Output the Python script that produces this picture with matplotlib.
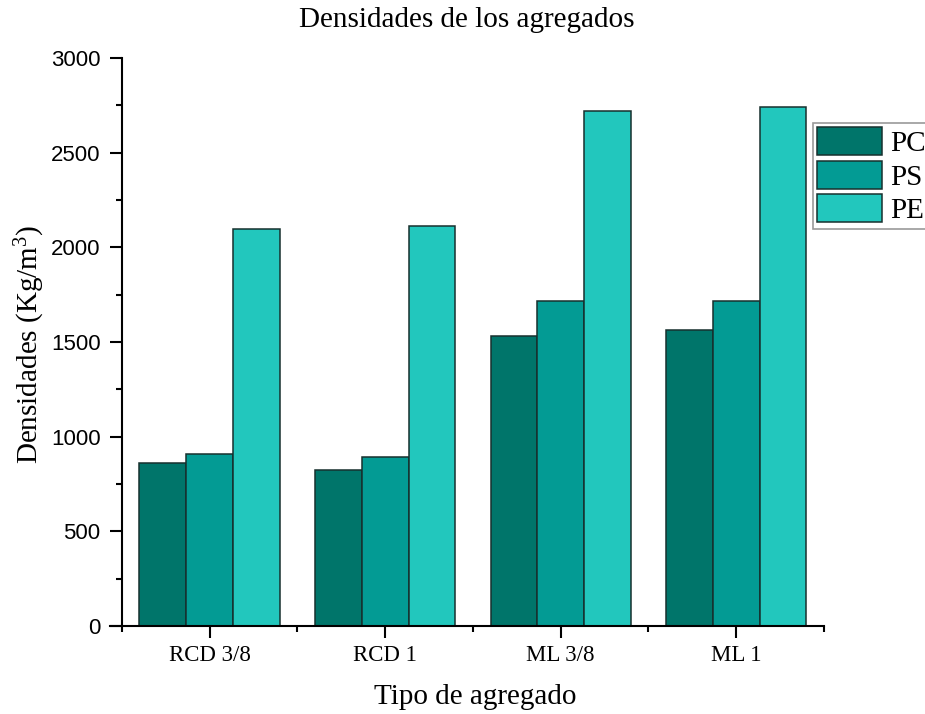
import numpy as np
import matplotlib
matplotlib.use('Agg')
import matplotlib.pyplot as plt
from matplotlib.ticker import MultipleLocator, FixedLocator

# data
categorias = ['RCD 3/8', 'RCD 1', 'ML 3/8', 'ML 1']
series = ['PC', 'PS', 'PE']
pc = [861, 822, 1533, 1562]
ps = [910, 893, 1715, 1715]
pe = [2099, 2114, 2719, 2743]
colores = ['#00756a', '#039b94', '#22c7bd']

plt.rcParams['mathtext.fontset'] = 'custom'
plt.rcParams['mathtext.rm'] = 'Liberation Serif'
plt.rcParams['mathtext.default'] = 'regular'

serif = 'Liberation Serif'
sans = 'Liberation Sans'

fig = plt.figure(figsize=(9.25, 7.14), dpi=100)
ax = fig.add_axes([110/925, 1 - 626/714, 714/925, 568/714])

x = np.arange(len(categorias))
w = 0.8 / 3
for j, (nombre, vals) in enumerate(zip(series, [pc, ps, pe])):
    ax.bar(x + (j - 1) * w, vals, width=w, color=colores[j],
           edgecolor='#17302e', linewidth=1.1, label=nombre, zorder=2)

ax.set_xlim(-0.568, 3.5)
ax.set_ylim(0, 3000)
ax.spines['left'].set_position(('data', -0.5))
ax.spines['top'].set_visible(False)
ax.spines['right'].set_visible(False)
for s in ['left', 'bottom']:
    ax.spines[s].set_linewidth(1.5)

ax.set_xticks(x)
ax.set_xticklabels(categorias, fontfamily=serif, fontsize=16.5)
ax.xaxis.set_minor_locator(FixedLocator([-0.5, 0.5, 1.5, 2.5, 3.5]))
ax.yaxis.set_major_locator(MultipleLocator(500))
ax.yaxis.set_minor_locator(MultipleLocator(250))
for lab in ax.get_yticklabels():
    lab.set_fontfamily(sans)
    lab.set_fontsize(16)

ax.tick_params(axis='both', which='major', direction='out', length=8.5, width=1.5)
ax.tick_params(axis='both', which='minor', direction='out', length=4.5, width=1.5)
ax.tick_params(axis='y', which='major', pad=7)
ax.tick_params(axis='x', which='major', pad=5)

ax.set_title('Densidades de los agregados', fontfamily=serif, fontsize=21,
             y=1.053, va='center')
ax.set_xlabel('Tipo de agregado', fontfamily=serif, fontsize=21)
ax.xaxis.set_label_coords(0.511, -0.125)
ax.xaxis.label.set_va('center')
ax.set_ylabel(r'Densidades (Kg/m$^{3}$)', fontfamily=serif, fontsize=21)
ax.yaxis.set_label_coords(-0.112, 0.495)
ax.yaxis.label.set_va('center')

leg = ax.legend(loc='upper left', bbox_to_anchor=(813/925, 1 - 123/714),
                bbox_transform=fig.transFigure, borderaxespad=0,
                prop={'family': serif, 'size': 21}, fancybox=False,
                edgecolor='#9a9a9a', framealpha=1, handlelength=2.2,
                handleheight=1.1, labelspacing=0.12, borderpad=0.15,
                handletextpad=0.3)
leg.get_frame().set_linewidth(1.2)

fig.savefig('out.png', dpi=100)
